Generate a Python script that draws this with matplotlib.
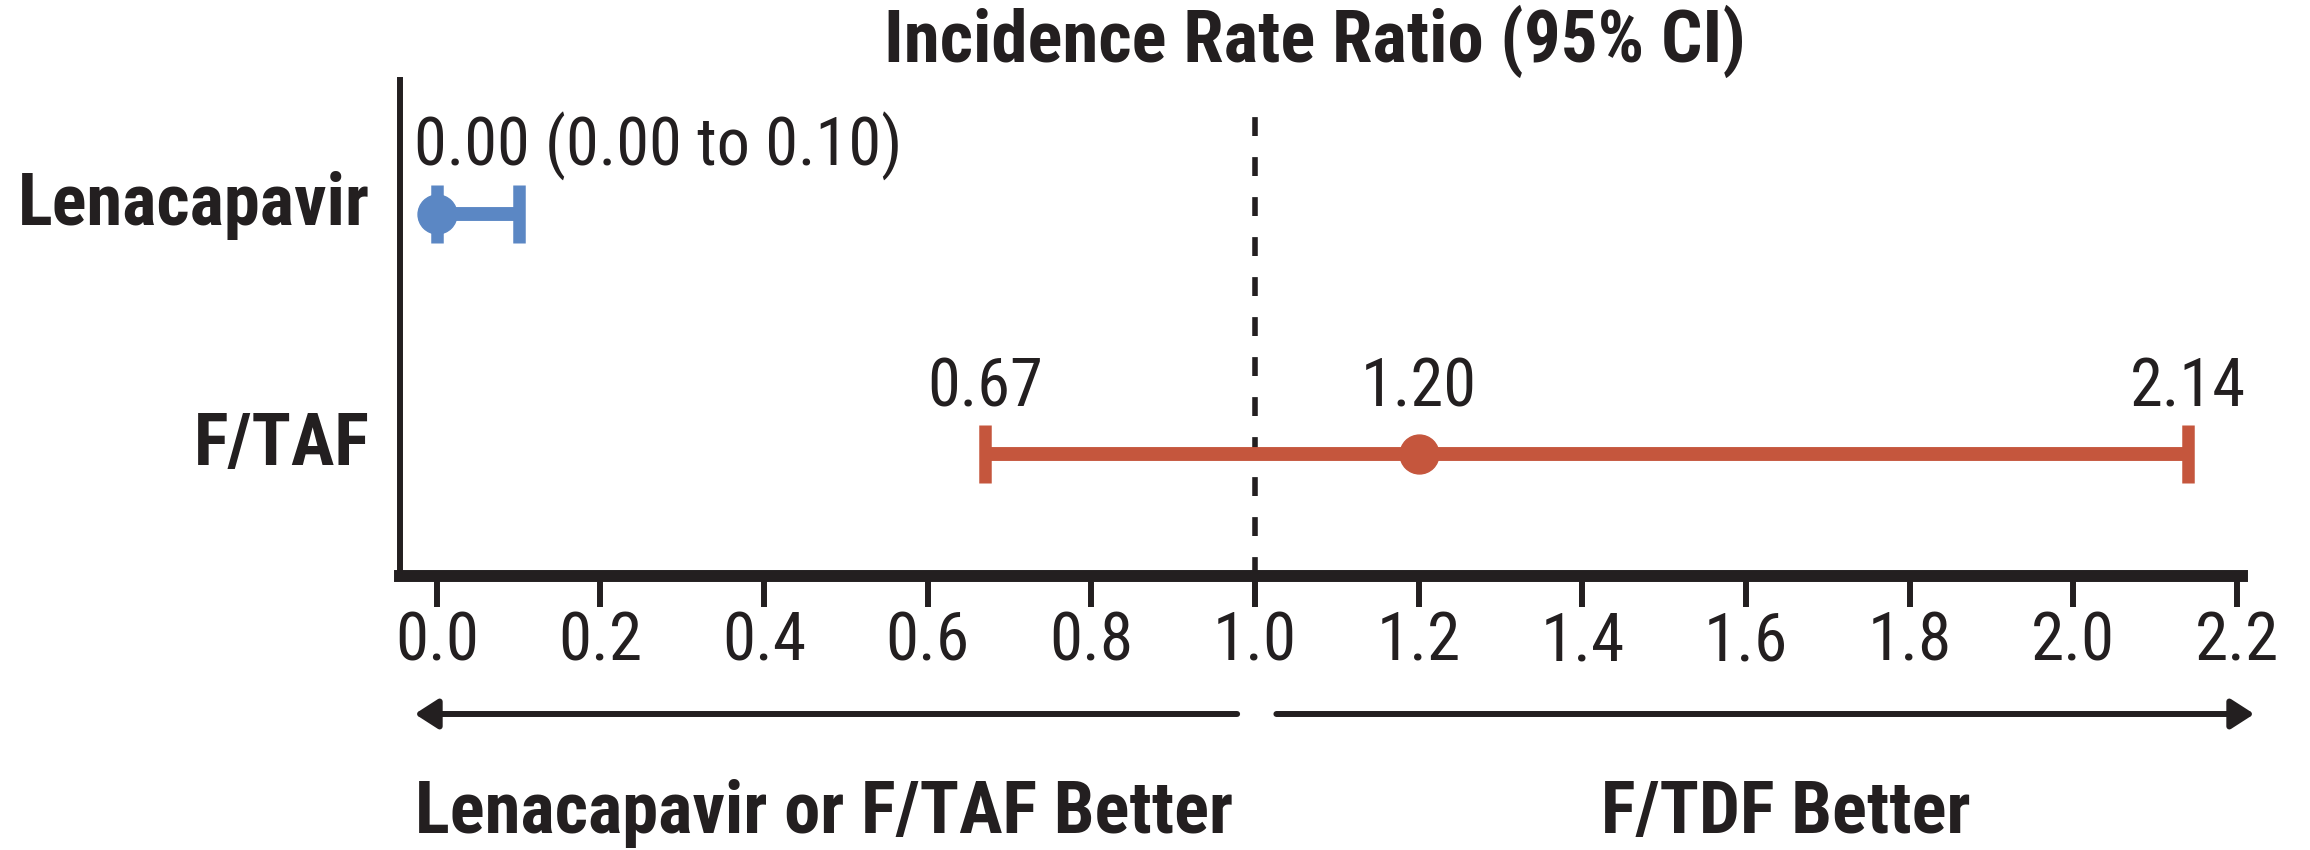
import os
import matplotlib
matplotlib.use('Agg')
import matplotlib.pyplot as plt
from matplotlib import font_manager
from matplotlib.font_manager import FontProperties

# data
groups = ['Lenacapavir', 'F/TAF']
irr = [0.00, 1.20]
ci_low = [0.00, 0.67]
ci_high = [0.10, 2.14]
colors = ['#5B87C4', '#C5563D']
xticks = [0.0, 0.2, 0.4, 0.6, 0.8, 1.0, 1.2, 1.4, 1.6, 1.8, 2.0, 2.2]
title = 'Incidence Rate Ratio (95% CI)'
left_note = 'Lenacapavir or F/TAF Better'
right_note = 'F/TDF Better'

INK = '#231F20'

# narrow face like the journal's one, if there is any
files = {os.path.basename(f.fname): f.fname for f in font_manager.fontManager.ttflist}
pairs = [
    ('LiberationSansNarrow-Regular.ttf', 'LiberationSansNarrow-Bold.ttf'),
    ('RobotoCondensed-Regular.ttf', 'RobotoCondensed-Bold.ttf'),
    ('NotoSans-Condensed.ttf', 'NotoSans-CondensedBold.ttf'),
    ('OpenSans-CondensedRegular.ttf', 'OpenSans-CondensedBold.ttf'),
    ('DejaVuSansCondensed.ttf', 'DejaVuSansCondensed-Bold.ttf'),
    ('LiberationSans-Regular.ttf', 'LiberationSans-Bold.ttf'),
]
REG, BOLD = FontProperties(family='DejaVu Sans'), FontProperties(family='DejaVu Sans', weight='bold')
for r, b in pairs:
    if r in files and b in files:
        REG, BOLD = FontProperties(fname=files[r]), FontProperties(fname=files[b])
        break

fig = plt.figure(figsize=(23.1, 8.5), dpi=100)
renderer = fig.canvas.get_renderer()


def fit_size(s, fp, target_px, base=50):
    t = fig.text(0, 0, s, fontproperties=fp, fontsize=base)
    w = t.get_window_extent(renderer).width
    t.remove()
    return base * target_px / w


val_size = fit_size('0.00 (0.00 to 0.10)', REG, 488)
tick_size = fit_size('0.0', REG, 84)
lab_size = fit_size('Lenacapavir', BOLD, 352)
title_size = fit_size(title, BOLD, 862)
note_size = fit_size(left_note, BOLD, 818)

ax = fig.add_axes([0.17316, 0.32235, 0.7974, 0.58353])

rows = [1, 0]
for y, est, lo, hi, c in zip(rows, irr, ci_low, ci_high, colors):
    ax.errorbar(est, y, xerr=[[est - lo], [hi - est]], fmt='o', color=c,
                ms=28, elinewidth=10, capsize=21, capthick=9, zorder=3)

# value labels
ax.text(ci_low[0] - 0.028, rows[0] + 0.2,
        f'{irr[0]:.2f} ({ci_low[0]:.2f} to {ci_high[0]:.2f})',
        ha='left', va='baseline', fontproperties=REG, fontsize=val_size, color=INK)
for v in (ci_low[1], irr[1], ci_high[1]):
    ax.text(v, rows[1] + 0.2, f'{v:.2f}', ha='center', va='baseline',
            fontproperties=REG, fontsize=val_size, color=INK)

# row labels
for y, name in zip(rows, groups):
    ax.text(-0.082, y - 0.046, name, ha='right', va='baseline',
            fontproperties=BOLD, fontsize=lab_size, color=INK)

ax.axvline(1.0, ymin=0, ymax=0.968, color=INK, lw=4, ls=(0, (3.4, 3.8)), zorder=2)

ax.set_xlim(-0.045, 2.206)
ax.set_ylim(-0.508, 1.558)
ax.set_xticks(xticks)
ax.set_xticklabels([f'{t:.1f}' for t in xticks])
for lbl in ax.get_xticklabels():
    lbl.set_fontproperties(REG)
    lbl.set_fontsize(tick_size)
ax.set_yticks([])
ax.tick_params(axis='x', direction='out', length=22, width=4.3, color=INK,
               labelcolor=INK, pad=3)
for s in ('top', 'right'):
    ax.spines[s].set_visible(False)
ax.spines['left'].set_linewidth(4.3)
ax.spines['bottom'].set_linewidth(8.6)
ax.spines['left'].set_color(INK)
ax.spines['bottom'].set_color(INK)

fig.text(0.5693, 0.927, title, ha='center', va='baseline',
         fontproperties=BOLD, fontsize=title_size, color=INK)

# direction arrows under the axis
arrow_y = 0.16
aprops = dict(arrowstyle='-|>,head_length=0.7,head_width=0.45', color=INK,
              lw=4.3, mutation_scale=20, shrinkA=0, shrinkB=0)
ax.annotate('', xy=(-0.027, arrow_y), xytext=(0.978, arrow_y),
            xycoords=('data', 'figure fraction'), textcoords=('data', 'figure fraction'),
            arrowprops=aprops, annotation_clip=False)
ax.annotate('', xy=(2.221, arrow_y), xytext=(1.026, arrow_y),
            xycoords=('data', 'figure fraction'), textcoords=('data', 'figure fraction'),
            arrowprops=aprops, annotation_clip=False)
ax.annotate(left_note, xy=(-0.027, 0.02), xycoords=('data', 'figure fraction'),
            ha='left', va='baseline', fontproperties=BOLD, fontsize=note_size,
            color=INK, annotation_clip=False)
ax.annotate(right_note, xy=(1.648, 0.02), xycoords=('data', 'figure fraction'),
            ha='center', va='baseline', fontproperties=BOLD, fontsize=note_size,
            color=INK, annotation_clip=False)

fig.savefig('out.png', dpi=100)
